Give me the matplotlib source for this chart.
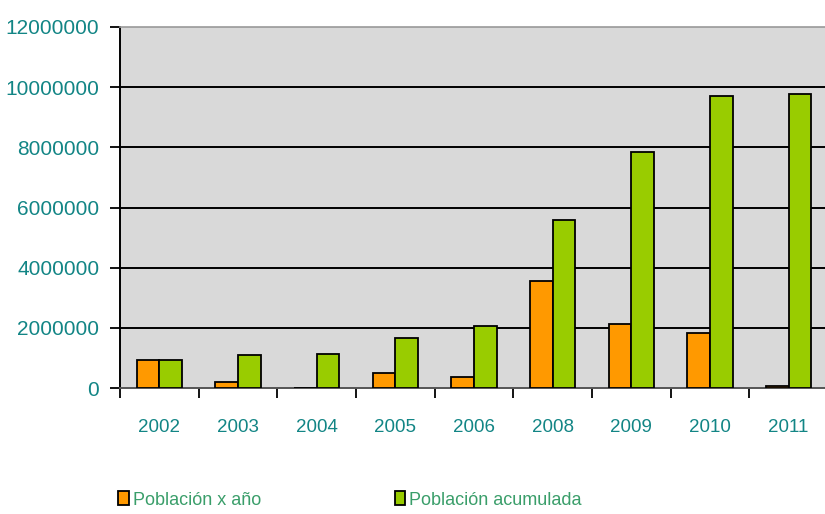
import numpy as np
import matplotlib.pyplot as plt
from matplotlib.patches import Patch

years = ['2002', '2003', '2004', '2005', '2006', '2008', '2009', '2010', '2011']
pob_anio = [930000, 200000, 0, 500000, 350000, 3570000, 2130000, 1840000, 50000]
pob_acum = [930000, 1110000, 1120000, 1650000, 2050000, 5580000, 7840000, 9690000, 9770000]

plt.rcParams['font.family'] = ['Liberation Sans', 'DejaVu Sans']

naranja = '#FF9900'
verde = '#99CC00'
teal = '#128585'

fig = plt.figure(figsize=(8.25, 5.14), dpi=100)
ax = fig.add_axes([120/825, 126/514, 708/825, 361/514])
ax.set_facecolor('#D9D9D9')

x = np.arange(len(years))
w = 0.29
ax.bar(x - w/2, pob_anio, w, color=naranja, edgecolor='black', linewidth=1.3, zorder=3)
ax.bar(x + w/2, pob_acum, w, color=verde, edgecolor='black', linewidth=1.3, zorder=3)

ax.set_ylim(0, 12000000)
ax.set_xlim(-0.5, len(years) - 0.5)
ax.set_yticks(np.arange(0, 12000001, 2000000))
ax.set_yticklabels([str(v) for v in range(0, 12000001, 2000000)])
for v in range(2000000, 12000000, 2000000):
    ax.axhline(v, color='black', linewidth=1.4, zorder=1)

ax.set_xticks(np.arange(-0.5, len(years), 1.0))
ax.set_xticklabels([])
ax.set_xticks(x, minor=True)
ax.set_xticklabels(years, minor=True)
ax.tick_params(axis='x', which='major', length=7, width=1.3, direction='out', color='black')
ax.tick_params(axis='x', which='minor', length=0, pad=22, labelsize=13.5, labelcolor=teal)
ax.tick_params(axis='y', length=7, width=1.3, direction='out', pad=8, labelsize=15, labelcolor=teal)

ax.spines['left'].set_color('black')
ax.spines['left'].set_linewidth(1.4)
ax.spines['bottom'].set_color('#555555')
ax.spines['bottom'].set_linewidth(1.4)
ax.spines['top'].set_color('#999999')
ax.spines['top'].set_linewidth(1.2)
ax.spines['right'].set_visible(False)

handles = [Patch(facecolor=naranja, edgecolor='black', linewidth=1.3, label='Población x año'),
           Patch(facecolor=verde, edgecolor='black', linewidth=1.3, label='Población acumulada')]
leg = fig.legend(handles=handles, ncol=2, loc='center left', bbox_to_anchor=(102/825, 1 - 500/514),
                 frameon=False, fontsize=13, handlelength=0.6, handleheight=0.8,
                 handletextpad=0.2, columnspacing=7.4)
for t in leg.get_texts():
    t.set_color('#3A9E6A')

fig.savefig('out.png', dpi=100)
